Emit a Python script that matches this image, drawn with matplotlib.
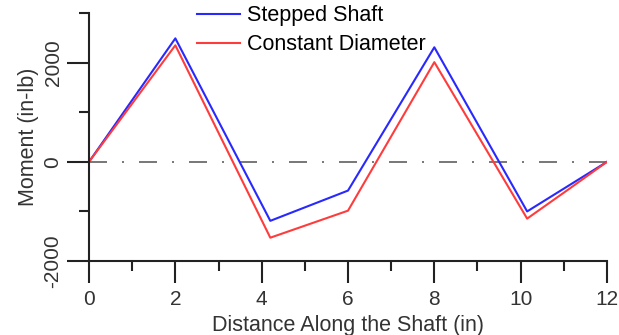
import matplotlib
matplotlib.use("Agg")
import matplotlib.pyplot as plt
from matplotlib.ticker import MultipleLocator

plt.rcParams['font.family'] = ['Liberation Sans', 'DejaVu Sans']
plt.rcParams['axes.unicode_minus'] = False

# DATA GOES HERE
stepped_x = [0, 2, 4.2, 6, 8, 10.15, 12]
stepped_m = [0, 2490, -1190, -580, 2310, -1000, 0]
const_x = [0, 2, 4.2, 6, 8, 10.15, 11.1, 12]
const_m = [0, 2350, -1530, -985, 2010, -1145, -560, 0]

fig = plt.figure(figsize=(6.19, 3.35), dpi=100)
ax = fig.add_axes([0.1438, 0.2209, 0.8368, 0.7401])

ax.plot([0, 12], [0, 0], color='#606060', lw=1.2, ls=(0, (10.8, 9, 1.2, 9)))
ax.plot(stepped_x, stepped_m, color='#2828ff', lw=1.5, label='Stepped Shaft')
ax.plot(const_x, const_m, color='#ff3c3c', lw=1.5, label='Constant Diameter')

ax.set_xlim(0, 12)
ax.set_ylim(-2000, 3000)
ax.xaxis.set_major_locator(MultipleLocator(2))
ax.xaxis.set_minor_locator(MultipleLocator(1))
ax.yaxis.set_minor_locator(MultipleLocator(1000))
ax.set_yticks([-2000, 0, 2000])

for s in ['top', 'right']:
    ax.spines[s].set_visible(False)
for s in ['left', 'bottom']:
    ax.spines[s].set_linewidth(1.5)
    ax.spines[s].set_color('#222222')

ax.tick_params(which='major', length=16, width=1.5, labelsize=15, color='#222222', labelcolor='#333333')
ax.tick_params(which='minor', length=7, width=1.5, color='#222222')
ax.tick_params(axis='x', which='major', pad=5)
ax.tick_params(axis='y', which='major', pad=3)
for lab in ax.get_yticklabels():
    lab.set_rotation(90)
    lab.set_va('center')

ax.set_xlabel('Distance Along the Shaft (in)', fontsize=15.5, color='#333333', labelpad=4)
ax.set_ylabel('Moment (in-lb)', fontsize=15.5, color='#333333', labelpad=3)

ax.legend(loc='upper left', bbox_to_anchor=(0.192, 1.066), frameon=False, fontsize=15.5,
          handlelength=2.0, handletextpad=0.33, labelspacing=0.37, borderaxespad=0)

fig.savefig('out.png', dpi=100)
